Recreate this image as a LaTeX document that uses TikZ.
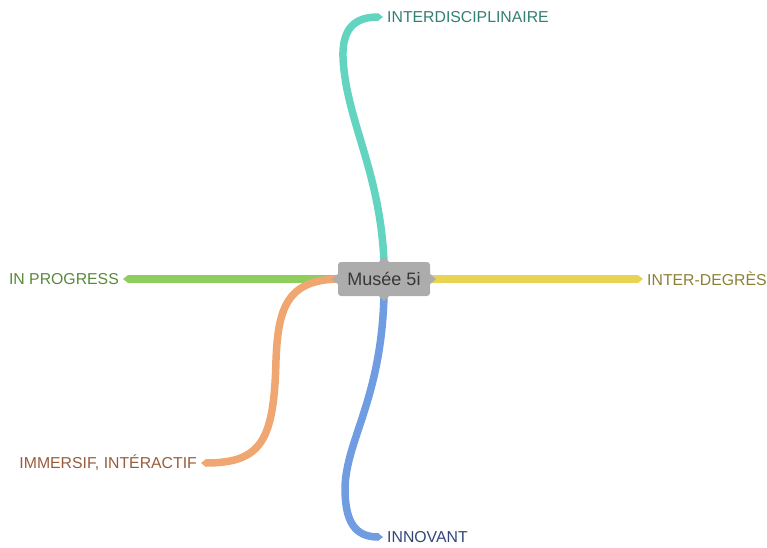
\documentclass[tikz,border=0pt]{standalone}
\usepackage{fontspec}
\setmainfont{Liberation Sans}
\usepackage{tikz}
\usetikzlibrary{arrows.meta}
\usetikzlibrary{backgrounds}
\usepackage{xcolor}

\definecolor{hubgray}{RGB}{172,172,172}
\definecolor{hubtext}{RGB}{55,55,55}
\definecolor{tealline}{RGB}{98,212,192}
\definecolor{tealtext}{RGB}{48,128,116}
\definecolor{greenline}{RGB}{142,206,92}
\definecolor{greentext}{RGB}{88,138,58}
\definecolor{yellowline}{RGB}{232,212,82}
\definecolor{yellowtext}{RGB}{140,128,52}
\definecolor{orangeline}{RGB}{240,166,112}
\definecolor{orangetext}{RGB}{152,92,60}
\definecolor{blueline}{RGB}{112,156,226}
\definecolor{bluetext}{RGB}{48,70,122}

\begin{document}
\begin{tikzpicture}[x=1pt, y=-1pt,
  every node/.style={font=\fontsize{15.8}{18}\selectfont},
  leaf/.style={inner sep=4pt},
  branch/.style={line width=7.5pt, -{Triangle[length=5pt, width=0pt 1]}}]

\useasboundingbox (0,0) rectangle (767,547);

\node[fill=hubgray, rounded corners=3pt, minimum width=92pt, minimum height=34pt,
      text=hubtext, font=\fontsize{18}{21}\selectfont] (hub) at (384,279) {Musée 5i};

\node[leaf, anchor=west, text=tealtext]   (interd)   at (383,17)  {INTERDISCIPLINAIRE};
\node[leaf, anchor=east, text=greentext]  (progress) at (123,279) {IN PROGRESS};
\node[leaf, anchor=west, text=yellowtext] (degres)   at (643,279) {INTER-DEGRÈS};
\node[leaf, anchor=east, text=orangetext] (immersif) at (201,463) {IMMERSIF, INTÉRACTIF};
\node[leaf, anchor=west, text=bluetext]   (innovant) at (383,537) {INNOVANT};

% branches
\begin{scope}[on background layer]
\draw[branch, tealline] (hub.north) .. controls (380,170) and (346,120) .. (343,58)
    .. controls (342,28) and (355,17) .. (interd.west);
\draw[branch, greenline] (hub.west) -- (progress.east);
\draw[branch, yellowline] (hub.east) -- (degres.west);
\draw[branch, orangeline] (hub.west) .. controls (286,280) and (278,310) .. (276,360)
    .. controls (274,440) and (262,463) .. (immersif.east);
\draw[branch, blueline] (hub.south) .. controls (381,400) and (346,440) .. (345,488)
    .. controls (345,522) and (355,537) .. (innovant.west);
\end{scope}

% notches
\fill[hubgray] ([xshift=-5pt]hub.north) -- ([yshift=5pt]hub.north) -- ([xshift=5pt]hub.north) -- cycle;
\fill[hubgray] ([xshift=-5pt]hub.south) -- ([yshift=-5pt]hub.south) -- ([xshift=5pt]hub.south) -- cycle;
\fill[hubgray] ([yshift=-5pt]hub.west) -- ([xshift=-6pt]hub.west) -- ([yshift=5pt]hub.west) -- cycle;
\fill[hubgray] ([yshift=-5pt]hub.east) -- ([xshift=6pt]hub.east) -- ([yshift=5pt]hub.east) -- cycle;
\end{tikzpicture}
\end{document}
